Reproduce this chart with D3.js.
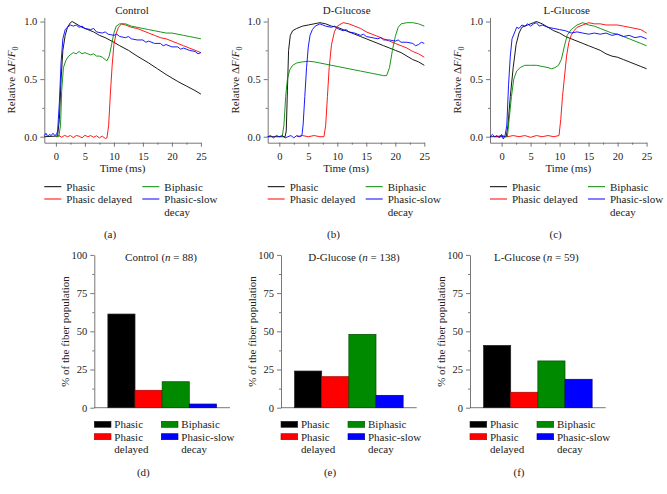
<!DOCTYPE html>
<html><head><meta charset="utf-8">
<script src="https://cdn.jsdelivr.net/npm/d3@7"></script>
<style>body{margin:0;background:#fff}svg{display:block}</style>
</head><body><svg id="c" width="667" height="494"></svg>
<script>
// ---------- DATA ----------
const seriesNames = ["Phasic", "Phasic delayed", "Biphasic", "Phasic-slow decay"];
const lineTitles = ["Control", "D-Glucose", "L-Glucose"];
const panelLettersTop = ["(a)", "(b)", "(c)"];
const panelLettersBottom = ["(d)", "(e)", "(f)"];
const timeTicks = [0, 5, 10, 15, 20, 25];
const ratioTicks = [0.0, 0.5, 1.0];
const percentTicks = [0, 25, 50, 75, 100];

// Control traces [time ms, relative dF/F0]
const ctrlPhasic = [[-2,0],[0,0.005],[0.3,0.01],[0.6,0.15],[0.9,0.5],[1.2,0.75],[1.6,0.88],[2.0,0.95],[2.5,0.99],[2.8,1.0],[3.5,0.98],[4.5,0.95],[5.5,0.93],[6.5,0.91],[7.5,0.88],[8.5,0.86],[10,0.82],[11,0.79],[12.5,0.75],[14,0.7],[15,0.67],[16,0.64],[17.5,0.59],[19,0.54],[20,0.51],[21,0.48],[22.5,0.44],[24,0.4],[25,0.37]];
const ctrlDelayed = [[0,0],[0.5,0.01],[1,-0.005],[1.5,0.012],[2,0],[2.5,0.01],[3,-0.008],[3.5,0.01],[4,0.005],[4.5,-0.01],[5,0.012],[5.5,0],[6,0.01],[6.5,-0.005],[7,0.008],[7.5,-0.01],[8,0.005],[8.5,-0.015],[8.8,-0.01],[9.1,0.1],[9.4,0.38],[9.7,0.62],[10,0.8],[10.4,0.9],[10.8,0.95],[11.3,0.98],[12,0.97],[13,0.95],[14,0.94],[15,0.92],[16,0.9],[17,0.88],[18,0.86],[19,0.85],[20,0.83],[21,0.81],[22,0.79],[23,0.77],[24,0.75],[25,0.73]];
const ctrlBiphasic = [[0,0],[0.5,0],[0.8,0.1],[1.0,0.4],[1.3,0.6],[1.7,0.66],[2.2,0.7],[3,0.73],[3.5,0.72],[4,0.74],[4.5,0.72],[5,0.73],[5.5,0.72],[6,0.71],[6.5,0.72],[7,0.7],[7.5,0.7],[8,0.69],[8.5,0.67],[8.8,0.66],[9.2,0.7],[9.6,0.8],[10,0.9],[10.4,0.96],[11,0.98],[12,0.98],[13,0.96],[14,0.95],[15,0.94],[16,0.93],[17,0.92],[18,0.91],[19,0.9],[20,0.9],[21,0.89],[22,0.88],[23,0.87],[24,0.86],[25,0.85]];
const ctrlSlow = [[-2,0.01],[-1.7,0.03],[-1.4,0],[-1.1,0.02],[-0.8,0.01],[-0.5,0.03],[-0.2,0.01],[0.1,0.02],[0.3,0.05],[0.6,0.3],[0.9,0.65],[1.2,0.85],[1.6,0.93],[2,0.95],[2.5,0.97],[3,0.96],[3.5,0.97],[4,0.95],[4.5,0.96],[5,0.94],[6,0.93],[6.5,0.94],[7,0.91],[8,0.9],[8.5,0.91],[9,0.89],[10,0.88],[10.5,0.89],[11,0.87],[12,0.86],[12.5,0.87],[13,0.85],[14,0.84],[15,0.84],[15.5,0.82],[16,0.83],[17,0.81],[18,0.81],[18.5,0.79],[19,0.8],[20,0.78],[21,0.78],[21.5,0.76],[22,0.77],[23,0.75],[24,0.74],[24.5,0.72],[25,0.73]];

// D-Glucose traces
const dgluPhasic = [[-2,0],[1,0],[1.2,0.05],[1.4,0.4],[1.6,0.75],[1.9,0.88],[2.3,0.92],[3,0.94],[4,0.96],[5,0.97],[6,0.98],[7,0.99],[8,0.98],[9,0.96],[10,0.95],[11,0.93],[12,0.91],[13,0.89],[14,0.87],[15,0.85],[16,0.83],[17,0.81],[18,0.79],[19,0.77],[20,0.75],[21,0.73],[22,0.7],[23,0.67],[24,0.65],[25,0.62]];
const dgluDelayed = [[3,0],[4,0.01],[5,0],[6,0.01],[7,0],[7.7,0],[8,0.1],[8.3,0.35],[8.6,0.6],[9,0.8],[9.5,0.91],[10,0.96],[11,0.99],[12,0.98],[13,0.96],[14,0.94],[15,0.91],[16,0.89],[17,0.87],[18,0.85],[19,0.83],[20,0.81],[21,0.79],[22,0.77],[23,0.74],[24,0.72],[25,0.69]];
const dgluBiphasic = [[0.5,0],[0.8,0.1],[1.1,0.35],[1.4,0.5],[1.8,0.58],[2.3,0.62],[3,0.64],[4,0.65],[5,0.655],[6,0.65],[7,0.64],[8,0.63],[9,0.62],[10,0.61],[11,0.6],[12,0.59],[13,0.58],[14,0.57],[15,0.56],[16,0.55],[17,0.54],[18,0.53],[18.5,0.53],[19,0.6],[19.5,0.75],[20,0.87],[20.5,0.95],[21,0.98],[22,0.99],[23,0.99],[24,0.98],[25,0.96]];
const dgluSlow = [[-2,0],[-1.5,0.01],[-1,-0.01],[-0.5,0.01],[0,0],[0.5,0.01],[1,-0.01],[1.5,0],[2,0.01],[2.5,-0.01],[3,0.01],[3.5,0],[3.9,0.01],[4.1,0.1],[4.4,0.35],[4.7,0.6],[5,0.78],[5.3,0.88],[5.7,0.93],[6.2,0.96],[7,0.98],[7.5,0.97],[8,0.96],[9,0.95],[9.5,0.96],[10,0.94],[11,0.92],[11.5,0.93],[12,0.91],[13,0.9],[14,0.88],[14.5,0.89],[15,0.87],[16,0.86],[17,0.85],[17.5,0.86],[18,0.84],[19,0.84],[20,0.83],[20.5,0.84],[21,0.82],[22,0.82],[23,0.81],[23.5,0.79],[24,0.8],[24.5,0.82],[25,0.81]];

// L-Glucose traces
const lgluPhasic = [[-2,0],[0.8,0],[1.1,0.1],[1.5,0.35],[2,0.6],[2.5,0.8],[3,0.9],[3.5,0.95],[4.5,0.97],[5.5,0.99],[6,1.0],[7,0.98],[8,0.95],[9,0.92],[10,0.9],[11,0.87],[12,0.85],[13,0.83],[14,0.81],[15,0.79],[16,0.77],[17,0.75],[18,0.72],[19,0.7],[20,0.69],[21,0.67],[22,0.65],[23,0.63],[24,0.61],[25,0.59]];
const lgluDelayed = [[-1,0],[0,0.01],[1,0],[2,0.01],[3,0],[4,0.01],[5,-0.005],[6,0.01],[7,0],[8,0.01],[9,0],[9.9,0.01],[10.2,0.15],[10.5,0.35],[10.8,0.5],[11.2,0.7],[11.6,0.82],[12,0.88],[12.5,0.92],[13,0.95],[14,0.97],[15,0.99],[16,0.98],[17,0.98],[18,0.97],[19,0.97],[20,0.97],[21,0.96],[22,0.95],[23,0.94],[24,0.93],[25,0.9]];
const lgluBiphasic = [[0.5,0],[1.0,0],[1.3,0.15],[1.7,0.35],[2.1,0.5],[2.6,0.57],[3.2,0.6],[4,0.62],[5,0.62],[6,0.62],[7,0.61],[8,0.6],[8.6,0.59],[9.2,0.6],[9.8,0.62],[10.3,0.67],[10.8,0.78],[11.3,0.88],[12,0.93],[13,0.97],[14,0.99],[15,0.97],[16,0.96],[17,0.94],[18,0.92],[19,0.9],[20,0.89],[21,0.87],[22,0.85],[23,0.83],[24,0.81],[25,0.79]];
const lgluSlow = [[-2,0],[-1.6,0.02],[-1.2,0],[-0.8,0.01],[-0.4,-0.01],[0,0.02],[0.3,-0.02],[0.6,0.01],[0.9,0.1],[1.2,0.45],[1.5,0.7],[1.8,0.85],[2.2,0.9],[2.6,0.95],[3,0.94],[3.5,0.97],[4,0.96],[4.5,0.98],[5,0.96],[5.5,0.98],[6,0.99],[6.5,0.96],[7,0.97],[8,0.95],[9,0.94],[10,0.93],[11,0.92],[12,0.9],[13,0.91],[14,0.9],[15,0.89],[16,0.9],[17,0.89],[18,0.9],[19,0.88],[20,0.89],[21,0.87],[22,0.88],[23,0.86],[24,0.87],[25,0.85]];

// Population percentages
const ctrlPct = [61.3, 11.4, 17.0, 2.4];
const dgluPct = [24.0, 20.3, 48.0, 8.1];
const lgluPct = [40.8, 10.1, 30.6, 18.6];
const barNs = [88, 138, 59];

// ---------- LAYOUT / STYLE ----------
const FONT = "'Liberation Serif', 'Times New Roman', Times, serif";
const colors = ["#000000", "#ff0000", "#008a00", "#0000ff"];
const barStroke = ["#222", "#a00", "#004d00", "#000080"];
const linePanels = [
  {x0: 44.3, traces: [ctrlPhasic, ctrlDelayed, ctrlBiphasic, ctrlSlow], titleX: 132},
  {x0: 267.7, traces: [dgluPhasic, dgluDelayed, dgluBiphasic, dgluSlow], titleX: 346.7},
  {x0: 490, traces: [lgluPhasic, lgluDelayed, lgluBiphasic, lgluSlow], titleX: 566.7}
];
const barPanels = [
  {x0: 94.3, vals: ctrlPct, titleX: 161, title: "Control"},
  {x0: 281, vals: dgluPct, titleX: 354, title: "D-Glucose"},
  {x0: 470, vals: lgluPct, titleX: 536.3, title: "L-Glucose"}
];

const svg = d3.select("#c");
const FS = 10.5, LFS = 11;
const txt = (g) => g.append("text").attr("font-family", FONT).attr("fill", "#222");

linePanels.forEach((p, i) => {
  const g = svg.append("g");
  const x = d3.scaleLinear().domain([-2, 25]).range([p.x0, p.x0 + 156.6]);
  const y = d3.scaleLinear().domain([-0.052, 1.035]).range([142.7, 17.5]);
  const xa = g.append("g").attr("transform", "translate(0,142.7)")
    .call(d3.axisBottom(x).tickValues(timeTicks).tickSize(4).tickSizeOuter(0).tickFormat(d3.format("d")));
  g.append("g").attr("transform", "translate(0,142.7)")
    .call(d3.axisBottom(x).tickValues([2.5, 7.5, 12.5, 17.5, 22.5]).tickSize(2).tickFormat("")).select(".domain").remove();
  g.append("g").attr("transform", `translate(${p.x0},0)`)
    .call(d3.axisLeft(y).tickValues(ratioTicks).tickSize(4).tickSizeOuter(0).tickFormat(d3.format(".1f")));
  g.append("g").attr("transform", `translate(${p.x0},0)`)
    .call(d3.axisLeft(y).tickValues([0.25, 0.75]).tickSize(2).tickFormat("")).select(".domain").remove();
  g.selectAll("g").attr("font-family", FONT);
  g.selectAll(".domain,.tick line").attr("stroke", "#555").attr("stroke-width", 0.8);
  g.selectAll(".tick text").attr("font-size", FS).attr("font-family", FONT).attr("fill", "#222");
  xa.selectAll(".tick text").attr("dy", "0.95em");
  const line = d3.line().x(d => x(d[0])).y(d => y(d[1]));
  p.traces.forEach((tr, k) => {
    g.append("path").datum(tr).attr("d", line).attr("fill", "none")
      .attr("stroke", colors[k]).attr("stroke-width", 0.9).attr("stroke-linejoin", "round");
  });
  txt(g).attr("x", p.titleX).attr("y", 13.5).attr("text-anchor", "middle").attr("font-size", LFS).text(lineTitles[i]);
  txt(g).attr("x", p.x0 + 78.3).attr("y", 171.5).attr("text-anchor", "middle").attr("font-size", LFS).text("Time (ms)");
  const yl = txt(g).attr("transform", `translate(${p.x0 - 29},80) rotate(-90)`).attr("text-anchor", "middle").attr("font-size", LFS);
  yl.append("tspan").text("Relative \u0394");
  yl.append("tspan").attr("font-style", "italic").text("F");
  yl.append("tspan").text("/");
  yl.append("tspan").attr("font-style", "italic").text("F");
  yl.append("tspan").attr("font-size", 8).attr("dy", 3).text("0");
  const pos = [[0, 186.7], [0, 199], [98, 186.7], [98, 199]];
  seriesNames.forEach((nm, k) => {
    const [dx, yy] = pos[k];
    g.append("line").attr("x1", p.x0 + dx).attr("x2", p.x0 + dx + 17).attr("y1", yy).attr("y2", yy)
      .attr("stroke", colors[k]).attr("stroke-width", 1);
    const parts = nm === "Phasic-slow decay" ? ["Phasic-slow", "decay"] : [nm];
    parts.forEach((t, j) => txt(g).attr("x", p.x0 + dx + 22).attr("y", yy + 3.8 + j * 13.5).attr("font-size", LFS).text(t));
  });
  txt(g).attr("x", p.x0 + 65.7).attr("y", 238).attr("text-anchor", "middle").attr("font-size", LFS).text(panelLettersTop[i]);
});

barPanels.forEach((p, i) => {
  const g = svg.append("g");
  const x = d3.scaleBand().domain(seriesNames).range([p.x0, p.x0 + 135.7]).paddingInner(0).paddingOuter(0.5);
  const y = d3.scaleLinear().domain([0, 100]).range([407.7, 254.9]);
  g.append("g").attr("transform", `translate(${p.x0},0)`)
    .call(d3.axisLeft(y).tickValues(percentTicks).tickSize(4).tickSizeOuter(0));
  g.append("g").attr("transform", `translate(${p.x0},0)`)
    .call(d3.axisLeft(y).tickValues([12.5, 37.5, 62.5, 87.5]).tickSize(2).tickFormat("")).select(".domain").remove();
  g.append("line").attr("x1", p.x0).attr("x2", p.x0 + 135.7).attr("y1", 407.7).attr("y2", 407.7).attr("stroke", "#555").attr("stroke-width", 0.8);
  g.selectAll("g").attr("font-family", FONT);
  g.selectAll(".domain,.tick line").attr("stroke", "#555").attr("stroke-width", 0.8);
  g.selectAll(".tick text").attr("font-size", FS).attr("font-family", FONT).attr("fill", "#222");
  g.selectAll("rect.bar").data(p.vals).join("rect").attr("class", "bar")
    .attr("x", (d, k) => x(seriesNames[k])).attr("width", x.bandwidth())
    .attr("y", d => y(d)).attr("height", d => y(0) - y(d))
    .attr("fill", (d, k) => colors[k]).attr("stroke", (d, k) => barStroke[k]).attr("stroke-width", 0.7);
  const t = txt(g).attr("x", p.titleX).attr("y", 261).attr("text-anchor", "middle").attr("font-size", LFS);
  t.append("tspan").text(p.title + " (");
  t.append("tspan").attr("font-style", "italic").text("n");
  t.append("tspan").text(" = " + barNs[i] + ")");
  txt(g).attr("transform", `translate(${p.x0 - 25},331.5) rotate(-90)`).attr("text-anchor", "middle").attr("font-size", LFS).text("% of the fiber population");
  const pos = [[0, 424.3], [0, 436.7], [67, 424.3], [67, 436.7]];
  seriesNames.forEach((nm, k) => {
    const [dx, yy] = pos[k];
    g.append("rect").attr("x", p.x0 + dx).attr("y", yy - 3).attr("width", 16.7).attr("height", 6)
      .attr("fill", colors[k]).attr("stroke", barStroke[k]).attr("stroke-width", 0.6);
    const parts = nm === "Phasic-slow decay" ? ["Phasic-slow", "decay"] : (nm === "Phasic delayed" ? ["Phasic", "delayed"] : [nm]);
    parts.forEach((tx, j) => txt(g).attr("x", p.x0 + dx + 20).attr("y", yy + 3.8 + j * 12.8).attr("font-size", LFS).text(tx));
  });
  txt(g).attr("x", p.x0 + 49).attr("y", 476).attr("text-anchor", "middle").attr("font-size", LFS).text(panelLettersBottom[i]);
});
</script></body></html>
